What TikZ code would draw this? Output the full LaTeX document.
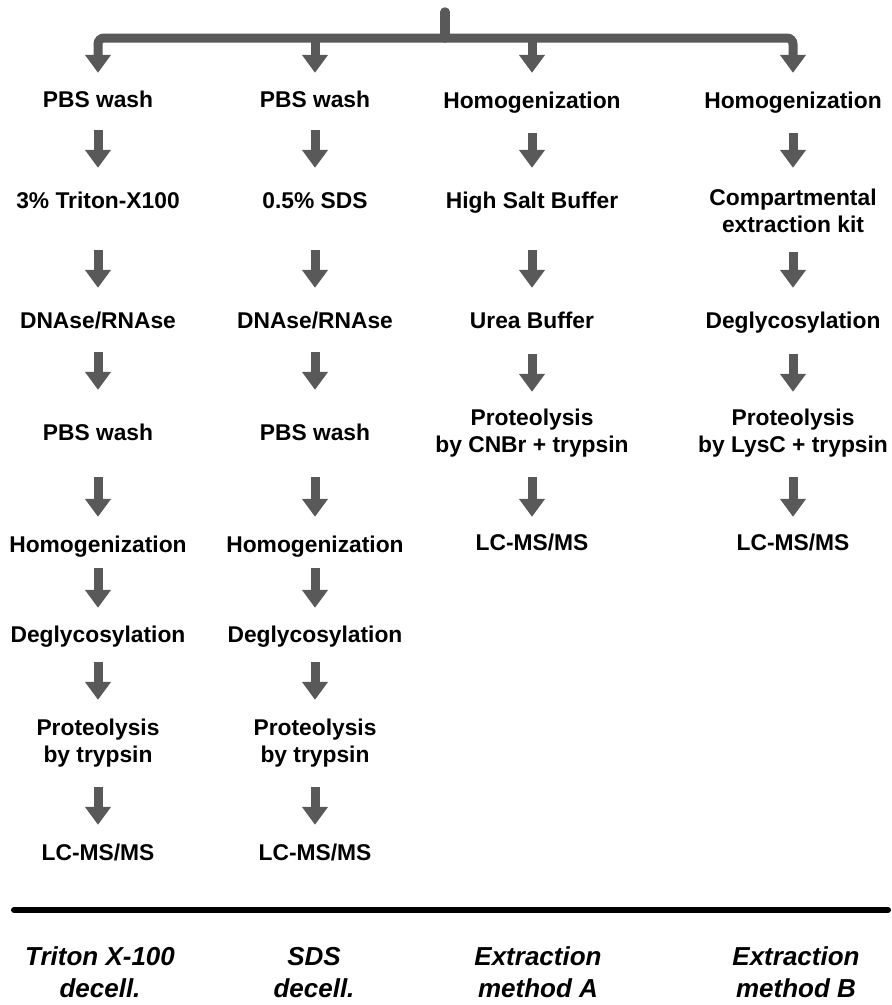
\documentclass[tikz,border=0pt]{standalone}
\usepackage{fontspec}
\setmainfont{Liberation Sans}
\usetikzlibrary{arrows.meta}
\definecolor{arrowgray}{HTML}{595959}
\newcommand\stk[1]{\begin{tabular}[t]{@{}c@{}}#1\end{tabular}}
\tikzset{
  stage/.style={inner sep=0pt, anchor=base, font=\fontsize{22.8pt}{27pt}\selectfont\bfseries},
  method/.style={inner sep=0pt, anchor=base, font=\fontsize{26pt}{32pt}\selectfont\bfseries\itshape},
  flow/.style={color=arrowgray, line width=9pt, -{Triangle[width=25pt,length=18pt]}},
  trunk/.style={color=arrowgray, line width=9.5pt, line cap=round},
  rule/.style={line width=6pt, line cap=round, black}
}
\newcommand\flowarrow[4]{\draw[flow, shorten <=#3pt, shorten >=#4pt] (#1.south) -- (#2.north);}
\begin{document}
\begin{tikzpicture}[x=1pt,y=-1pt]
\useasboundingbox (0,0) rectangle (892,1005);

% column 1
\node[stage] (c1a) at (98,107) {\stk{PBS wash}};
\node[stage] (c1b) at (98,208) {\stk{3\% Triton-X100}};
\node[stage] (c1c) at (98,328) {\stk{DNAse/RNAse}};
\node[stage] (c1d) at (98,440) {\stk{PBS wash}};
\node[stage] (c1e) at (98,552) {\stk{Homogenization}};
\node[stage] (c1f) at (98,642) {\stk{Deglycosylation}};
\node[stage] (c1g) at (98,735) {\stk{Proteolysis\\by trypsin}};
\node[stage] (c1h) at (98,860) {\stk{LC-MS/MS}};

% column 2
\node[stage] (c2a) at (315,107) {\stk{PBS wash}};
\node[stage] (c2b) at (315,208) {\stk{0.5\% SDS}};
\node[stage] (c2c) at (315,328) {\stk{DNAse/RNAse}};
\node[stage] (c2d) at (315,440) {\stk{PBS wash}};
\node[stage] (c2e) at (315,552) {\stk{Homogenization}};
\node[stage] (c2f) at (315,642) {\stk{Deglycosylation}};
\node[stage] (c2g) at (315,735) {\stk{Proteolysis\\by trypsin}};
\node[stage] (c2h) at (315,860) {\stk{LC-MS/MS}};

% column 3
\node[stage] (c3a) at (532,108) {\stk{Homogenization}};
\node[stage] (c3b) at (532,208) {\stk{High Salt Buffer}};
\node[stage] (c3c) at (532,328) {\stk{Urea Buffer}};
\node[stage] (c3d) at (532,425) {\stk{Proteolysis\\by CNBr + trypsin}};
\node[stage] (c3e) at (532,550) {\stk{LC-MS/MS}};

% column 4
\node[stage] (c4a) at (793,108) {\stk{Homogenization}};
\node[stage] (c4b) at (793,205) {\stk{Compartmental\\extraction kit}};
\node[stage] (c4c) at (793,328) {\stk{Deglycosylation}};
\node[stage] (c4d) at (793,425) {\stk{Proteolysis\\by LysC + trypsin}};
\node[stage] (c4e) at (793,550) {\stk{LC-MS/MS}};

% top splitter
\coordinate (top) at (445,12);
\coordinate (split) at (445,38);
\draw[trunk] (top) -- (split);
\draw[flow, rounded corners=6pt, shorten >=15.1pt] (split) -| (c1a.north);
\draw[flow, rounded corners=6pt, shorten >=16.1pt] (split) -| (c4a.north);
\draw[flow, shorten >=15.1pt] (c2a.north |- split) -- (c2a.north);
\draw[flow, shorten >=16.1pt] (c3a.north |- split) -- (c3a.north);

% column 1 arrows
\flowarrow{c1a}{c1b}{14.9}{21.1}
\flowarrow{c1b}{c1c}{33.9}{21.1}
\flowarrow{c1c}{c1d}{15.9}{31.1}
\flowarrow{c1d}{c1e}{28.9}{16.1}
\flowarrow{c1e}{c1f}{7.9}{15.1}
\flowarrow{c1f}{c1g}{11.9}{16.1}
\flowarrow{c1g}{c1h}{16.9}{16.1}

% column 2 arrows
\flowarrow{c2a}{c2b}{14.9}{21.1}
\flowarrow{c2b}{c2c}{33.9}{21.1}
\flowarrow{c2c}{c2d}{15.9}{31.1}
\flowarrow{c2d}{c2e}{28.9}{16.1}
\flowarrow{c2e}{c2f}{7.9}{15.1}
\flowarrow{c2f}{c2g}{11.9}{16.1}
\flowarrow{c2g}{c2h}{16.9}{16.1}

% column 3 arrows
\flowarrow{c3a}{c3b}{16.9}{21.1}
\flowarrow{c3b}{c3c}{33.9}{21.1}
\flowarrow{c3c}{c3d}{17.9}{14.1}
\flowarrow{c3d}{c3e}{16.9}{14.1}

% column 4 arrows
\flowarrow{c4a}{c4b}{16.9}{18.1}
\flowarrow{c4b}{c4c}{11.9}{21.1}
\flowarrow{c4c}{c4d}{17.9}{14.1}
\flowarrow{c4d}{c4e}{16.9}{14.1}

% separator rule
\coordinate (rl) at (14,910);
\coordinate (rr) at (888,910);
\draw[rule] (rl) -- (rr);

% method labels
\node[method] (m1) at (100,965) {\stk{Triton X-100\\decell.}};
\node[method] (m2) at (314,965) {\stk{SDS\\decell.}};
\node[method] (m3) at (538,965) {\stk{Extraction\\method A}};
\node[method] (m4) at (796,965) {\stk{Extraction\\method B}};
\end{tikzpicture}
\end{document}
